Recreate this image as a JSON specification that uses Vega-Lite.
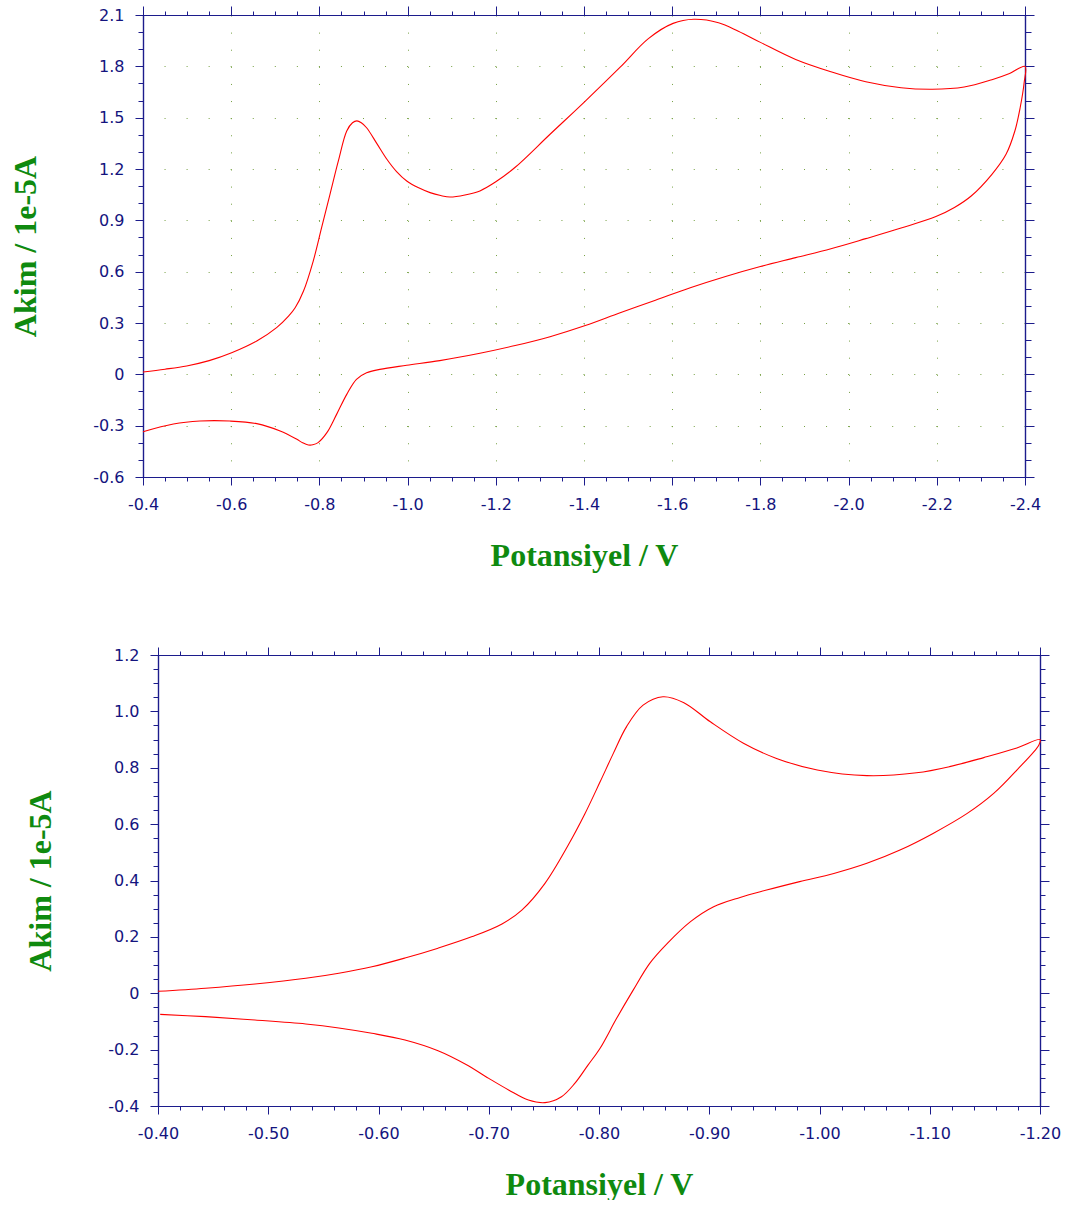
{
  "$schema": "https://vega.github.io/schema/vega-lite/v6.json",
  "background": "#ffffff",
  "padding": {"left": 9, "top": 5, "right": 0, "bottom": 0},
  "spacing": 75,
  "datasets": {
    "cv_wide": [
      {"v": -0.400, "i": 0.014}, {"v": -0.450, "i": 0.030}, {"v": -0.499, "i": 0.049}, {"v": -0.550, "i": 0.080},
      {"v": -0.601, "i": 0.126}, {"v": -0.658, "i": 0.195}, {"v": -0.703, "i": 0.273}, {"v": -0.730, "i": 0.340},
      {"v": -0.745, "i": 0.389}, {"v": -0.764, "i": 0.487}, {"v": -0.786, "i": 0.662}, {"v": -0.805, "i": 0.857},
      {"v": -0.824, "i": 1.052}, {"v": -0.843, "i": 1.247}, {"v": -0.862, "i": 1.422}, {"v": -0.875, "i": 1.470},
      {"v": -0.885, "i": 1.481}, {"v": -0.895, "i": 1.470}, {"v": -0.907, "i": 1.441}, {"v": -0.930, "i": 1.350},
      {"v": -0.953, "i": 1.257}, {"v": -0.975, "i": 1.185}, {"v": -0.998, "i": 1.130}, {"v": -1.025, "i": 1.090},
      {"v": -1.051, "i": 1.062}, {"v": -1.075, "i": 1.045}, {"v": -1.096, "i": 1.036}, {"v": -1.130, "i": 1.048},
      {"v": -1.164, "i": 1.072}, {"v": -1.200, "i": 1.125}, {"v": -1.244, "i": 1.210}, {"v": -1.323, "i": 1.403},
      {"v": -1.403, "i": 1.597}, {"v": -1.482, "i": 1.795}, {"v": -1.546, "i": 1.962}, {"v": -1.602, "i": 2.051},
      {"v": -1.649, "i": 2.075}, {"v": -1.705, "i": 2.055}, {"v": -1.750, "i": 2.005}, {"v": -1.800, "i": 1.940},
      {"v": -1.880, "i": 1.840}, {"v": -1.960, "i": 1.768}, {"v": -2.039, "i": 1.710}, {"v": -2.119, "i": 1.675},
      {"v": -2.190, "i": 1.666}, {"v": -2.262, "i": 1.679}, {"v": -2.325, "i": 1.722}, {"v": -2.365, "i": 1.758},
      {"v": -2.400, "i": 1.800},
      {"v": -2.398, "i": 1.704}, {"v": -2.389, "i": 1.558}, {"v": -2.377, "i": 1.422}, {"v": -2.357, "i": 1.286},
      {"v": -2.325, "i": 1.169}, {"v": -2.278, "i": 1.042}, {"v": -2.240, "i": 0.975}, {"v": -2.198, "i": 0.922},
      {"v": -2.119, "i": 0.855}, {"v": -2.039, "i": 0.793}, {"v": -1.960, "i": 0.734}, {"v": -1.880, "i": 0.682},
      {"v": -1.800, "i": 0.630}, {"v": -1.721, "i": 0.572}, {"v": -1.641, "i": 0.506}, {"v": -1.562, "i": 0.433},
      {"v": -1.482, "i": 0.360}, {"v": -1.403, "i": 0.285}, {"v": -1.323, "i": 0.220}, {"v": -1.244, "i": 0.168},
      {"v": -1.164, "i": 0.123}, {"v": -1.073, "i": 0.080}, {"v": -0.998, "i": 0.053}, {"v": -0.937, "i": 0.029},
      {"v": -0.907, "i": 0.009}, {"v": -0.884, "i": -0.029}, {"v": -0.862, "i": -0.117}, {"v": -0.839, "i": -0.234},
      {"v": -0.817, "i": -0.341}, {"v": -0.797, "i": -0.399}, {"v": -0.785, "i": -0.412}, {"v": -0.775, "i": -0.413},
      {"v": -0.762, "i": -0.400}, {"v": -0.749, "i": -0.380}, {"v": -0.711, "i": -0.331}, {"v": -0.658, "i": -0.288},
      {"v": -0.597, "i": -0.273}, {"v": -0.529, "i": -0.273}, {"v": -0.469, "i": -0.290}, {"v": -0.400, "i": -0.335}
    ],
    "cv_narrow": [
      {"v": -0.400, "i": 0.007}, {"v": -0.443, "i": 0.018}, {"v": -0.488, "i": 0.033}, {"v": -0.534, "i": 0.053},
      {"v": -0.564, "i": 0.071}, {"v": -0.594, "i": 0.094}, {"v": -0.624, "i": 0.125}, {"v": -0.654, "i": 0.160},
      {"v": -0.685, "i": 0.201}, {"v": -0.712, "i": 0.246}, {"v": -0.730, "i": 0.295}, {"v": -0.751, "i": 0.390},
      {"v": -0.772, "i": 0.525}, {"v": -0.787, "i": 0.635}, {"v": -0.801, "i": 0.750}, {"v": -0.813, "i": 0.851},
      {"v": -0.825, "i": 0.946}, {"v": -0.840, "i": 1.022}, {"v": -0.858, "i": 1.052}, {"v": -0.877, "i": 1.031},
      {"v": -0.901, "i": 0.963}, {"v": -0.931, "i": 0.887}, {"v": -0.961, "i": 0.833}, {"v": -0.998, "i": 0.792},
      {"v": -1.043, "i": 0.772}, {"v": -1.088, "i": 0.782}, {"v": -1.118, "i": 0.804}, {"v": -1.149, "i": 0.836},
      {"v": -1.179, "i": 0.870}, {"v": -1.200, "i": 0.900},
      {"v": -1.199, "i": 0.881}, {"v": -1.179, "i": 0.792}, {"v": -1.158, "i": 0.709}, {"v": -1.134, "i": 0.638},
      {"v": -1.103, "i": 0.567}, {"v": -1.073, "i": 0.508}, {"v": -1.043, "i": 0.461}, {"v": -1.013, "i": 0.425},
      {"v": -0.982, "i": 0.396}, {"v": -0.952, "i": 0.366}, {"v": -0.928, "i": 0.340}, {"v": -0.904, "i": 0.307},
      {"v": -0.883, "i": 0.254}, {"v": -0.862, "i": 0.177}, {"v": -0.846, "i": 0.106}, {"v": -0.831, "i": 0.011},
      {"v": -0.816, "i": -0.089}, {"v": -0.801, "i": -0.195}, {"v": -0.790, "i": -0.255}, {"v": -0.778, "i": -0.320},
      {"v": -0.766, "i": -0.367}, {"v": -0.751, "i": -0.388}, {"v": -0.736, "i": -0.379}, {"v": -0.718, "i": -0.343},
      {"v": -0.700, "i": -0.302}, {"v": -0.679, "i": -0.252}, {"v": -0.654, "i": -0.204}, {"v": -0.624, "i": -0.166},
      {"v": -0.594, "i": -0.142}, {"v": -0.564, "i": -0.123}, {"v": -0.534, "i": -0.109}, {"v": -0.488, "i": -0.095},
      {"v": -0.443, "i": -0.083}, {"v": -0.402, "i": -0.075}
    ]
  },
  "vconcat": [
    {
      "width": 882,
      "height": 462,
      "data": {"name": "cv_wide"},
      "resolve": {"axis": {"x": "independent", "y": "independent"}},
      "layer": [
        {
          "mark": {"type": "line", "color": "#ff0000", "strokeWidth": 1.1, "interpolate": "catmull-rom"},
          "encoding": {
            "x": {"field": "v", "type": "quantitative",
              "scale": {"domain": [-2.4, -0.4], "reverse": true, "nice": false, "zero": false},
              "axis": {"orient": "bottom", "values": [-0.4, -0.6, -0.8, -1.0, -1.2, -1.4, -1.6, -1.8, -2.0, -2.2, -2.4],
                "labelExpr": "(datum.value < 0 ? '-' : '') + format(abs(datum.value), '.1f')",
                "tickSize": 8, "title": "Potansiyel / V", "titlePadding": 28,
                "grid": true, "gridColor": "#76a043", "gridDash": [1, 16.11], "gridWidth": 1}},
            "y": {"field": "i", "type": "quantitative",
              "scale": {"domain": [-0.6, 2.1], "nice": false, "zero": false},
              "axis": {"orient": "left", "values": [-0.6, -0.3, 0, 0.3, 0.6, 0.9, 1.2, 1.5, 1.8, 2.1],
                "labelExpr": "datum.value == 0 ? '0' : (datum.value < 0 ? '-' : '') + format(abs(datum.value), '.1f')",
                "tickSize": 8, "title": "Akim / 1e-5A", "titlePadding": 50,
                "grid": true, "gridColor": "#76a043", "gridDash": [1, 21.05], "gridWidth": 1}},
            "order": {"value": null}
          }
        },
        {
          "mark": {"type": "line", "opacity": 0},
          "encoding": {
            "x": {"field": "v", "type": "quantitative",
              "scale": {"domain": [-2.4, -0.4], "reverse": true, "nice": false, "zero": false},
              "axis": {"orient": "bottom", "labels": false, "title": null, "tickSize": 4,
                "values": [-0.4, -0.45, -0.5, -0.55, -0.6, -0.65, -0.7, -0.75, -0.8, -0.85, -0.9, -0.95, -1.0, -1.05, -1.1, -1.15, -1.2, -1.25, -1.3, -1.35, -1.4, -1.45, -1.5, -1.55, -1.6, -1.65, -1.7, -1.75, -1.8, -1.85, -1.9, -1.95, -2.0, -2.05, -2.1, -2.15, -2.2, -2.25, -2.3, -2.35, -2.4]}},
            "y": {"field": "i", "type": "quantitative",
              "scale": {"domain": [-0.6, 2.1], "nice": false, "zero": false},
              "axis": {"orient": "left", "labels": false, "title": null, "tickSize": 5,
                "values": [-0.6, -0.5, -0.4, -0.3, -0.2, -0.1, 0, 0.1, 0.2, 0.3, 0.4, 0.5, 0.6, 0.7, 0.8, 0.9, 1.0, 1.1, 1.2, 1.3, 1.4, 1.5, 1.6, 1.7, 1.8, 1.9, 2.0, 2.1]}},
            "order": {"value": null}
          }
        },
        {
          "mark": {"type": "line", "opacity": 0},
          "encoding": {
            "x": {"field": "v", "type": "quantitative",
              "scale": {"domain": [-2.4, -0.4], "reverse": true, "nice": false, "zero": false},
              "axis": {"orient": "top", "labels": false, "title": null, "tickSize": 9,
                "values": [-0.4, -0.6, -0.8, -1.0, -1.2, -1.4, -1.6, -1.8, -2.0, -2.2, -2.4]}},
            "y": {"field": "i", "type": "quantitative",
              "scale": {"domain": [-0.6, 2.1], "nice": false, "zero": false},
              "axis": {"orient": "right", "labels": false, "title": null, "tickSize": 9,
                "values": [-0.6, -0.3, 0, 0.3, 0.6, 0.9, 1.2, 1.5, 1.8, 2.1]}},
            "order": {"value": null}
          }
        },
        {
          "mark": {"type": "line", "opacity": 0},
          "encoding": {
            "x": {"field": "v", "type": "quantitative",
              "scale": {"domain": [-2.4, -0.4], "reverse": true, "nice": false, "zero": false},
              "axis": {"orient": "top", "labels": false, "title": null, "tickSize": 4,
                "values": [-0.4, -0.45, -0.5, -0.55, -0.6, -0.65, -0.7, -0.75, -0.8, -0.85, -0.9, -0.95, -1.0, -1.05, -1.1, -1.15, -1.2, -1.25, -1.3, -1.35, -1.4, -1.45, -1.5, -1.55, -1.6, -1.65, -1.7, -1.75, -1.8, -1.85, -1.9, -1.95, -2.0, -2.05, -2.1, -2.15, -2.2, -2.25, -2.3, -2.35, -2.4]}},
            "y": {"field": "i", "type": "quantitative",
              "scale": {"domain": [-0.6, 2.1], "nice": false, "zero": false},
              "axis": {"orient": "right", "labels": false, "title": null, "tickSize": 6,
                "values": [-0.6, -0.5, -0.4, -0.3, -0.2, -0.1, 0, 0.1, 0.2, 0.3, 0.4, 0.5, 0.6, 0.7, 0.8, 0.9, 1.0, 1.1, 1.2, 1.3, 1.4, 1.5, 1.6, 1.7, 1.8, 1.9, 2.0, 2.1]}},
            "order": {"value": null}
          }
        }
      ]
    },
    {
      "width": 897,
      "height": 451,
      "data": {"name": "cv_narrow"},
      "resolve": {"axis": {"x": "independent", "y": "independent"}},
      "layer": [
        {
          "mark": {"type": "line", "color": "#ff0000", "strokeWidth": 1.1, "interpolate": "catmull-rom"},
          "encoding": {
            "x": {"field": "v", "type": "quantitative",
              "scale": {"domain": [-1.2, -0.4], "range": [15, 897], "reverse": true, "nice": false, "zero": false},
              "axis": {"orient": "bottom", "values": [-0.4, -0.5, -0.6, -0.7, -0.8, -0.9, -1.0, -1.1, -1.2],
                "labelExpr": "(datum.value < 0 ? '-' : '') + format(abs(datum.value), '.2f')",
                "tickSize": 8, "title": "Potansiyel / V", "titlePadding": 28}},
            "y": {"field": "i", "type": "quantitative",
              "scale": {"domain": [-0.4, 1.2], "nice": false, "zero": false},
              "axis": {"orient": "left", "offset": -15, "values": [-0.4, -0.2, 0, 0.2, 0.4, 0.6, 0.8, 1.0, 1.2],
                "labelExpr": "datum.value == 0 ? '0' : (datum.value < 0 ? '-' : '') + format(abs(datum.value), '.1f')",
                "tickSize": 8, "title": "Akim / 1e-5A", "titlePadding": 50}},
            "order": {"value": null}
          }
        },
        {
          "mark": {"type": "line", "opacity": 0},
          "encoding": {
            "x": {"field": "v", "type": "quantitative",
              "scale": {"domain": [-1.2, -0.4], "range": [15, 897], "reverse": true, "nice": false, "zero": false},
              "axis": {"orient": "bottom", "labels": false, "title": null, "tickSize": 4,
                "values": [-0.4, -0.42, -0.44, -0.46, -0.48, -0.5, -0.52, -0.54, -0.56, -0.58, -0.6, -0.62, -0.64, -0.66, -0.68, -0.7, -0.72, -0.74, -0.76, -0.78, -0.8, -0.82, -0.84, -0.86, -0.88, -0.9, -0.92, -0.94, -0.96, -0.98, -1.0, -1.02, -1.04, -1.06, -1.08, -1.1, -1.12, -1.14, -1.16, -1.18, -1.2]}},
            "y": {"field": "i", "type": "quantitative",
              "scale": {"domain": [-0.4, 1.2], "nice": false, "zero": false},
              "axis": {"orient": "left", "offset": -15, "labels": false, "title": null, "tickSize": 5,
                "values": [-0.4, -0.35, -0.3, -0.25, -0.2, -0.15, -0.1, -0.05, 0, 0.05, 0.1, 0.15, 0.2, 0.25, 0.3, 0.35, 0.4, 0.45, 0.5, 0.55, 0.6, 0.65, 0.7, 0.75, 0.8, 0.85, 0.9, 0.95, 1.0, 1.05, 1.1, 1.15, 1.2]}},
            "order": {"value": null}
          }
        },
        {
          "mark": {"type": "line", "opacity": 0},
          "encoding": {
            "x": {"field": "v", "type": "quantitative",
              "scale": {"domain": [-1.2, -0.4], "range": [15, 897], "reverse": true, "nice": false, "zero": false},
              "axis": {"orient": "top", "labels": false, "title": null, "tickSize": 8,
                "values": [-0.4, -0.5, -0.6, -0.7, -0.8, -0.9, -1.0, -1.1, -1.2]}},
            "y": {"field": "i", "type": "quantitative",
              "scale": {"domain": [-0.4, 1.2], "nice": false, "zero": false},
              "axis": {"orient": "right", "labels": false, "title": null, "tickSize": 9,
                "values": [-0.4, -0.2, 0, 0.2, 0.4, 0.6, 0.8, 1.0, 1.2]}},
            "order": {"value": null}
          }
        },
        {
          "mark": {"type": "line", "opacity": 0},
          "encoding": {
            "x": {"field": "v", "type": "quantitative",
              "scale": {"domain": [-1.2, -0.4], "range": [15, 897], "reverse": true, "nice": false, "zero": false},
              "axis": {"orient": "top", "labels": false, "title": null, "tickSize": 4,
                "values": [-0.4, -0.42, -0.44, -0.46, -0.48, -0.5, -0.52, -0.54, -0.56, -0.58, -0.6, -0.62, -0.64, -0.66, -0.68, -0.7, -0.72, -0.74, -0.76, -0.78, -0.8, -0.82, -0.84, -0.86, -0.88, -0.9, -0.92, -0.94, -0.96, -0.98, -1.0, -1.02, -1.04, -1.06, -1.08, -1.1, -1.12, -1.14, -1.16, -1.18, -1.2]}},
            "y": {"field": "i", "type": "quantitative",
              "scale": {"domain": [-0.4, 1.2], "nice": false, "zero": false},
              "axis": {"orient": "right", "labels": false, "title": null, "tickSize": 5,
                "values": [-0.4, -0.35, -0.3, -0.25, -0.2, -0.15, -0.1, -0.05, 0, 0.05, 0.1, 0.15, 0.2, 0.25, 0.3, 0.35, 0.4, 0.45, 0.5, 0.55, 0.6, 0.65, 0.7, 0.75, 0.8, 0.85, 0.9, 0.95, 1.0, 1.05, 1.1, 1.15, 1.2]}},
            "order": {"value": null}
          }
        }
      ]
    }
  ],
  "config": {
    "view": {"stroke": null},
    "axis": {
      "domainColor": "#1c1c8c",
      "domainWidth": 1.2,
      "tickColor": "#1c1c8c",
      "tickWidth": 1,
      "labelColor": "#14147e",
      "labelFont": "DejaVu Sans",
      "labelFontSize": 16,
      "labelPadding": 11,
      "labelOverlap": false,
      "labelFlush": false,
      "labelBound": false,
      "titleFont": "Liberation Serif",
      "titleFontWeight": "bold",
      "titleFontSize": 32,
      "titleColor": "#0f8a0f",
      "grid": false
    }
  }
}
